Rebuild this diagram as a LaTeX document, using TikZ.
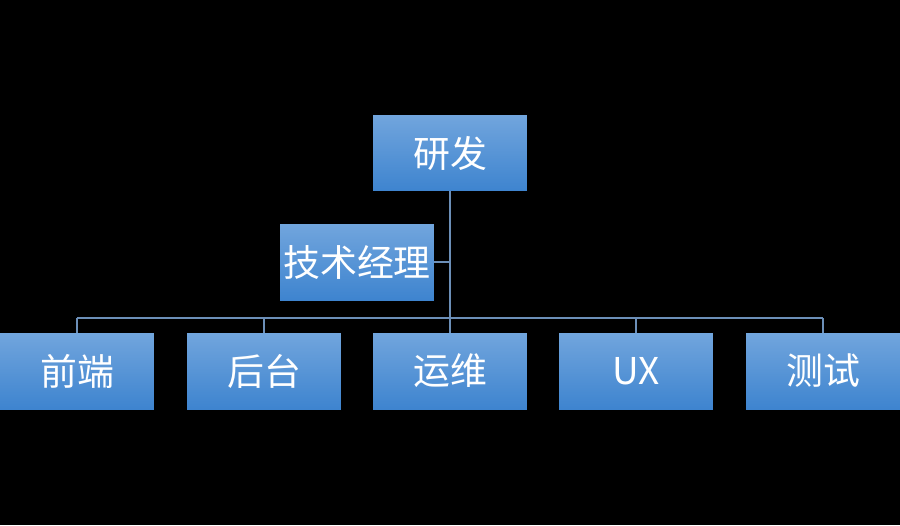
\documentclass[tikz,border=0pt]{standalone}
\usepackage{fontspec}
\newfontfamily\cjk{Noto Sans CJK SC}
\usetikzlibrary{positioning}
\definecolor{boxtop}{HTML}{71A5DD}
\definecolor{boxbot}{HTML}{3E84CF}
\definecolor{linkblue}{HTML}{6C8FB8}
\tikzset{
  orgbox/.style={rectangle, minimum width=3.08cm, minimum height=1.52cm, inner sep=0pt,
    top color=boxtop, bottom color=boxbot, text=white, font=\cjk\fontsize{21}{24}\selectfont},
  link/.style={draw=linkblue, line width=0.9pt}
}
\begin{document}
\begin{tikzpicture}[x=0.02cm, y=-0.02cm]
    % Background
    \fill[black] (0,0) rectangle (900,525);
    \useasboundingbox (0,0) rectangle (900,525);

    % Top
    \node[orgbox] (yf) at (450,153) {研发};
    \node[orgbox] (jl) at (357,262) {技术经理};

    % Bottom row
    \node[orgbox] (qd) at (77,371) {前端};
    \node[orgbox] (ht) at (264,371) {后台};
    \node[orgbox] (yw) at (450,371) {运维};
    \node[orgbox] (ux) at (636,371) {UX};
    \node[orgbox] (cs) at (823,371) {测试};
    \coordinate (bus) at (450,318);

    % Links
    \draw[link] (yf.south) -- (yw.north);
    \draw[link] (jl.east) -- (jl.east -| yf.south);
    \draw[link] (qd.north |- bus) -- (cs.north |- bus);
    \draw[link] (qd.north) -- (qd.north |- bus);
    \draw[link] (ht.north) -- (ht.north |- bus);
    \draw[link] (ux.north) -- (ux.north |- bus);
    \draw[link] (cs.north) -- (cs.north |- bus);
\end{tikzpicture}
\end{document}
